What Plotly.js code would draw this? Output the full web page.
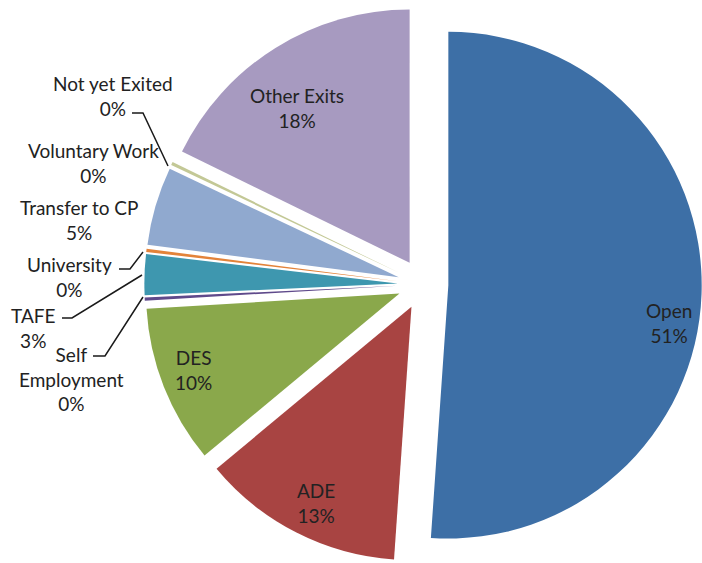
<!DOCTYPE html>
<html><head><meta charset="utf-8">
<script src="https://cdn.plot.ly/plotly-3.0.1.min.js"></script>
<style>html,body{margin:0;padding:0;background:#fff;} #chart{width:702px;height:563px;}</style>
</head><body><div id="chart"></div>
<script>
// ---- data ----
const categories = ["Open","ADE","DES","Self Employment","TAFE","University","Transfer to CP","Voluntary Work","Not yet Exited","Other Exits"];
const values = [51.2, 12.9, 10.1, 0.2, 2.6, 0.2, 5.0, 0, 0.2, 17.8];
const labelLines = [["Open"],["ADE"],["DES"],["Self","Employment"],["TAFE"],["University"],["Transfer to CP"],["Voluntary Work"],["Not yet Exited"],["Other Exits"]];

// ---- styles / layout constants ----
const sliceColors = ["#3D6FA6","#A84442","#8AA84B","#5F4A8B","#3E97AF","#E3833A","#90A9CF","#D99694","#C3C896","#A79AC0"];
const W = 702, H = 563;
const labelPos = [[669,323],[316,503],[193,370],[71,379],[33,327.5],[69.5,277.5],[79,220.5],[93,162.5],[113,96],[297,108]];
const leaderPaths = {
  "Not yet Exited": [[132,113],[143,113],[168,166]],
  "University": [[119,269],[130,269],[143,252]],
  "TAFE": [[62,318],[72,318],[142,275]],
  "Self Employment": [[93,356],[105,356],[143,297]]
};
const px = x => x / W, py = y => 1 - y / H;

const total = values.reduce((a,b)=>a+b,0);
const annotations = categories.map((c,i)=>({
  xref:'paper', yref:'paper', x:px(labelPos[i][0]), y:py(labelPos[i][1]),
  xanchor:'center', yanchor:'middle', showarrow:false, align:'center',
  text: labelLines[i].join('<br>') + '<br>' + Math.round(values[i]/total*100) + '%',
  font:{family:'Lato, "Open Sans", sans-serif', size:19, color:'#222'}
}));
const shapes = Object.keys(leaderPaths).map(k=>{
  const p = leaderPaths[k];
  return {type:'path', xref:'paper', yref:'paper',
    path: p.map((pt,j)=>(j?'L':'M')+px(pt[0])+','+py(pt[1])).join(' '),
    line:{color:'#1a1a1a', width:1.5}};
});

const trace = {
  type:'pie', labels:categories, values:values, sort:false,
  direction:'clockwise', rotation:0, pull:0.1,
  marker:{colors:sliceColors, line:{width:0}},
  textinfo:'none', hoverinfo:'label+percent',
  domain:{x:[0.2056,0.9996], y:[0,0.99]}
};
Plotly.newPlot('chart',[trace],{
  width:W, height:H, margin:{l:0,r:0,t:0,b:0},
  showlegend:false, paper_bgcolor:'#fff',
  annotations:annotations, shapes:shapes
},{displayModeBar:false, staticPlot:true});
</script></body></html>
